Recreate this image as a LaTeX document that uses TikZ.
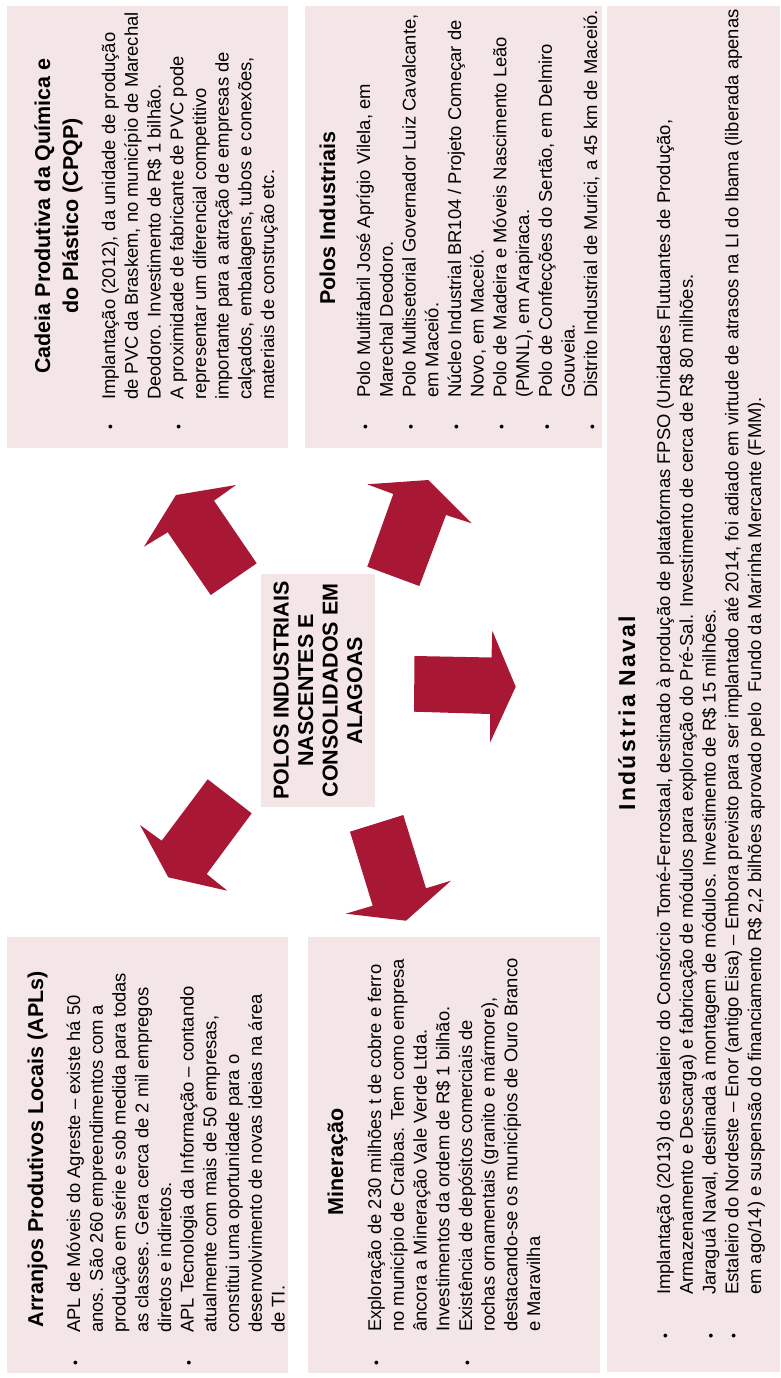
\documentclass[tikz,border=0pt]{standalone}
\usepackage{fontspec}
\setmainfont{Liberation Sans}
\definecolor{boxpink}{RGB}{244,230,230}
\definecolor{arrowred}{RGB}{168,24,52}
\newcommand\hstrut{\rule{0pt}{20pt}}
\newcommand\bstrut{\rule{0pt}{17pt}}
\newcommand\bul[1]{\llap{\makebox[0pt][c]{\fontsize{14}{14}\selectfont •}\hspace{#1pt}}}
\begin{document}
\begin{tikzpicture}[x=1pt,y=-1pt,
  panel/.style={fill=boxpink, draw=none},
  blockarrow/.style={fill=arrowred, draw=none},
  head/.style={rotate=90, inner sep=0pt, font=\fontsize{21.5}{28}\selectfont\bfseries, align=center, anchor=north},
  body/.style={rotate=90, inner sep=0pt, font=\fontsize{18.4}{22.7}\selectfont, align=left, anchor=north west},
]
\useasboundingbox[fill=white] (0,0) rectangle (780,1378);

% panels
\fill[panel] (7,6) rectangle (288,448);
\fill[panel] (305,6) rectangle (602,448);
\fill[panel] (607,6) rectangle (780,1372);
\fill[panel] (7,937) rectangle (288,1373);
\fill[panel] (308,937) rectangle (600,1373);

% Cadeia
\node[head] (cadH) at (30,216) {\hstrut Cadeia Produtiva da Química e\\do Plástico (CPQP)};
\node[body] (cadB) at (98,400) {\bstrut\bul{27}Implantação (2012), da unidade de produção\\
de PVC da Braskem, no município de Marechal\\
Deodoro. Investimento de R\$ 1 bilhão.\\
\bul{27}A proximidade de fabricante de PVC pode\\
representar um diferencial competitivo\\
importante para a atração de empresas de\\
calçados, embalagens, tubos e conexões,\\
materiais de construção etc.};

% Polos
\node[head] (polH) at (315,218) {\hstrut Polos Industriais};
\node[body] (polB) at (353,398) {\bstrut\bul{29}Polo Multifabril José Aprígio Vilela, em\\
Marechal Deodoro.\\
\bul{29}Polo Multisetorial Governador Luiz Cavalcante,\\
em Maceió.\\
\bul{29}Núcleo Industrial BR104 / Projeto Começar de\\
Novo, em Maceió.\\
\bul{29}Polo de Madeira e Móveis Nascimento Leão\\
(PMNL), em Arapiraca.\\
\bul{29}Polo de Confecções do Sertão, em Delmiro\\
Gouveia.\\
\bul{29}Distrito Industrial de Murici, a 45 km de Maceió.};

% Naval
\node[head, font=\fontsize{23}{28}\selectfont\bfseries\addfontfeatures{LetterSpace=10}] (navH) at (615,713) {\hstrut Indústria Naval};
\node[body] (navB) at (653,1295) {\bstrut\bul{41}Implantação (2013) do estaleiro do Consórcio Tomé-Ferrostaal, destinado à produção de plataformas FPSO (Unidades Flutuantes de Produção,\\
Armazenamento e Descarga) e fabricação de módulos para exploração do Pré-Sal. Investimento de cerca de R\$ 80 milhões.\\
\bul{41}Jaraguá Naval, destinada à montagem de módulos. Investimento de R\$ 15 milhões.\\
\bul{41}Estaleiro do Nordeste – Enor (antigo Eisa) – Embora previsto para ser implantado até 2014, foi adiado em virtude de atrasos na LI do Ibama (liberada apenas\\
em ago/14) e suspensão do financiamento R\$ 2,2 bilhões aprovado pelo~ Fundo da Marinha Mercante (FMM).};

% Arranjos
\node[head] (aplH) at (23,1149) {\hstrut Arranjos Produtivos Locais (APLs)};
\node[body] (aplB) at (63,1333) {\bstrut\bul{30}APL de Móveis do Agreste – existe há 50\\
anos. São 260 empreendimentos com a\\
produção em série e sob medida para todas\\
as classes. Gera cerca de 2 mil empregos\\
diretos e indiretos.\\
\bul{30}APL Tecnologia da Informação – contando\\
atualmente com mais de 50 empresas,\\
constitui uma oportunidade para o\\
desenvolvimento de novas ideias na área\\
de TI.};

% Mineracao
\node[head] (minH) at (323,1162) {\hstrut Mineração};
\node[body] (minB) at (364,1332) {\bstrut\bul{31}Exploração de 230 milhões t de cobre e ferro\\
no município de Craíbas. Tem como empresa\\
âncora a Mineração Vale Verde Ltda.\\
Investimentos da ordem de R\$ 1 bilhão.\\
\bul{31}Existência de depósitos comerciais de\\
rochas ornamentais (granito e mármore),\\
destacando-se os municípios de Ouro Branco\\
e Maravilha};

% centre
\node[fill=boxpink, rotate=90, minimum width=233pt, minimum height=114pt, inner sep=0pt,
  font=\fontsize{21.5}{24.5}\selectfont\bfseries, align=center] (centre) at (318,690.5)
  {POLOS INDUSTRIAIS\\NASCENTES E\\CONSOLIDADOS EM\\ALAGOAS};

% arrows
\fill[blockarrow] (256.7,563.3) -- (214,500.7) -- (236,485) -- (176,495) -- (144,546.7) -- (167.7,532.3) -- (210.7,595) -- cycle;
\fill[blockarrow] (367.3,566.7) -- (393.3,494) -- (367.3,484.3) -- (428.3,480) -- (471.7,523.3) -- (446,515) -- (419.3,586) -- cycle;
\fill[blockarrow] (414.5,656) -- (491.5,657.5) -- (492.3,630.7) -- (515.7,686.7) -- (490,742.7) -- (490,714) -- (414,711.7) -- cycle;
\fill[blockarrow] (207.7,779.3) -- (251.7,813.3) -- (206.7,874) -- (227.3,890.7) -- (168.3,877.3) -- (140,825) -- (161.7,840.7) -- cycle;
\fill[blockarrow] (350,831.7) -- (403.3,815) -- (426,888.3) -- (451,880.7) -- (406,920.7) -- (345.7,913.7) -- (372.7,905.7) -- cycle;
\end{tikzpicture}
\end{document}
